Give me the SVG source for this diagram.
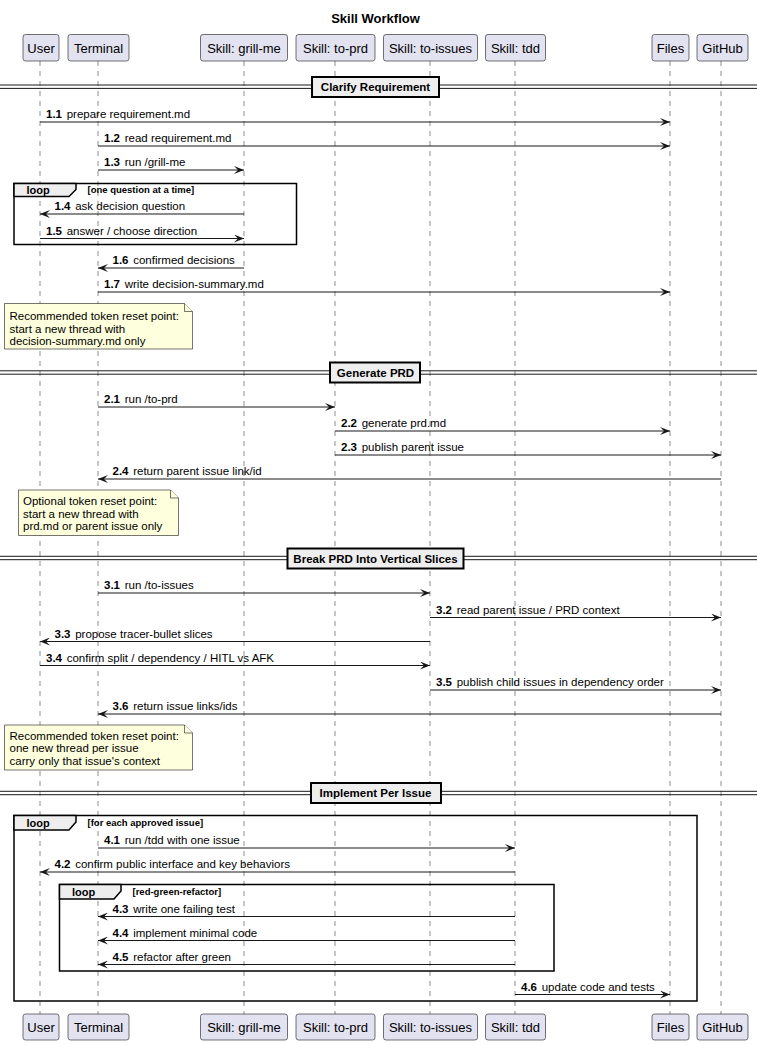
<svg xmlns="http://www.w3.org/2000/svg" width="757" height="1044" viewBox="0 0 757 1044">
<style>
text{font-family:"Liberation Sans",Arial,sans-serif;fill:#000}
.title{font-size:13px;font-weight:bold}
.pbox{fill:#E2E2F0;stroke:#181818;stroke-width:0.6}
.pl{font-size:13px;text-anchor:middle}
.life{stroke:#181818;stroke-width:0.5;stroke-dasharray:5,5}
.msg{stroke:#181818;stroke-width:1;fill:none}
.ml{font-size:11.5px}
.num{font-weight:bold}
.note{fill:#FEFFDD;stroke:#181818;stroke-width:0.6}
.nt{font-size:11.5px}
.dl{stroke:#181818;stroke-width:1}
.dbox{fill:#EEEEEE;stroke:#000;stroke-width:2}
.dt{font-size:11.5px;font-weight:bold;text-anchor:middle}
.loop{fill:none;stroke:#000;stroke-width:1.5}
.tab{fill:#EEEEEE;stroke:#000;stroke-width:1.5}
.lt{font-size:11px;font-weight:bold}
.gt{font-size:9.5px;font-weight:bold}
</style>
<defs>
<marker id="ah" viewBox="0 0 10 8" markerWidth="10" markerHeight="8" refX="10" refY="4" orient="auto" markerUnits="userSpaceOnUse">
<path d="M0,0 L10,4 L0,8 L4,4 Z" fill="#181818"/>
</marker>
</defs>
<rect width="757" height="1044" fill="#fff"/>
<text class="title" x="375.5" y="23" text-anchor="middle">Skill Workflow</text>

<g id="lifelines">
<line class="life" x1="40" y1="61" x2="40" y2="1014"/>
<line class="life" x1="98" y1="61" x2="98" y2="1014"/>
<line class="life" x1="244" y1="61" x2="244" y2="1014"/>
<line class="life" x1="335" y1="61" x2="335" y2="1014"/>
<line class="life" x1="430" y1="61" x2="430" y2="1014"/>
<line class="life" x1="515" y1="61" x2="515" y2="1014"/>
<line class="life" x1="670" y1="61" x2="670" y2="1014"/>
<line class="life" x1="721" y1="61" x2="721" y2="1014"/>
</g>

<g id="p-user">
<rect class="pbox" x="23" y="34.5" width="36" height="26.5" rx="2.5"/><text class="pl" x="41" y="52.5">User</text>
<rect class="pbox" x="23" y="1014" width="36" height="26" rx="2.5"/><text class="pl" x="41" y="1031.5">User</text>
</g>
<g id="p-terminal">
<rect class="pbox" x="68" y="34.5" width="61" height="26.5" rx="2.5"/><text class="pl" x="98.5" y="52.5">Terminal</text>
<rect class="pbox" x="68" y="1014" width="61" height="26" rx="2.5"/><text class="pl" x="98.5" y="1031.5">Terminal</text>
</g>
<g id="p-grill">
<rect class="pbox" x="200.5" y="34.5" width="87" height="26.5" rx="2.5"/><text class="pl" x="244" y="52.5">Skill: grill-me</text>
<rect class="pbox" x="200.5" y="1014" width="87" height="26" rx="2.5"/><text class="pl" x="244" y="1031.5">Skill: grill-me</text>
</g>
<g id="p-toprd">
<rect class="pbox" x="296" y="34.5" width="79" height="26.5" rx="2.5"/><text class="pl" x="335.5" y="52.5">Skill: to-prd</text>
<rect class="pbox" x="296" y="1014" width="79" height="26" rx="2.5"/><text class="pl" x="335.5" y="1031.5">Skill: to-prd</text>
</g>
<g id="p-toissues">
<rect class="pbox" x="383.5" y="34.5" width="94" height="26.5" rx="2.5"/><text class="pl" x="430.5" y="52.5">Skill: to-issues</text>
<rect class="pbox" x="383.5" y="1014" width="94" height="26" rx="2.5"/><text class="pl" x="430.5" y="1031.5">Skill: to-issues</text>
</g>
<g id="p-tdd">
<rect class="pbox" x="485.5" y="34.5" width="60" height="26.5" rx="2.5"/><text class="pl" x="515.5" y="52.5">Skill: tdd</text>
<rect class="pbox" x="485.5" y="1014" width="60" height="26" rx="2.5"/><text class="pl" x="515.5" y="1031.5">Skill: tdd</text>
</g>
<g id="p-files">
<rect class="pbox" x="652" y="34.5" width="37" height="26.5" rx="2.5"/><text class="pl" x="670.5" y="52.5">Files</text>
<rect class="pbox" x="652" y="1014" width="37" height="26" rx="2.5"/><text class="pl" x="670.5" y="1031.5">Files</text>
</g>
<g id="p-github">
<rect class="pbox" x="697" y="34.5" width="51" height="26.5" rx="2.5"/><text class="pl" x="722.5" y="52.5">GitHub</text>
<rect class="pbox" x="697" y="1014" width="51" height="26" rx="2.5"/><text class="pl" x="722.5" y="1031.5">GitHub</text>
</g>

<g id="divider-1">
<line class="dl" x1="0" y1="85" x2="757" y2="85"/><line class="dl" x1="0" y1="88.4" x2="757" y2="88.4"/>
<rect class="dbox" x="312" y="77" width="127" height="20"/><text class="dt" x="375.5" y="91">Clarify Requirement</text>
</g>
<g id="divider-2">
<line class="dl" x1="0" y1="370.8" x2="757" y2="370.8"/><line class="dl" x1="0" y1="374.2" x2="757" y2="374.2"/>
<rect class="dbox" x="330" y="362.5" width="90" height="20"/><text class="dt" x="375.5" y="376.5">Generate PRD</text>
</g>
<g id="divider-3">
<line class="dl" x1="0" y1="556.3" x2="757" y2="556.3"/><line class="dl" x1="0" y1="559.7" x2="757" y2="559.7"/>
<rect class="dbox" x="287.5" y="548.5" width="176" height="20"/><text class="dt" x="375.5" y="562.5">Break PRD Into Vertical Slices</text>
</g>
<g id="divider-4">
<line class="dl" x1="0" y1="791.3" x2="757" y2="791.3"/><line class="dl" x1="0" y1="794.7" x2="757" y2="794.7"/>
<rect class="dbox" x="311" y="783" width="130" height="20"/><text class="dt" x="375.5" y="797">Implement Per Issue</text>
</g>

<g id="loop-1">
<rect class="loop" x="14" y="183.5" width="282.5" height="61"/>
<path class="tab" d="M14,183.5 L76,183.5 L76,189.5 L69,196.5 L14,196.5 Z"/>
<text class="lt" x="26.5" y="194">loop</text>
<text class="gt" x="87.5" y="193">[one question at a time]</text>
</g>
<g id="loop-2">
<rect class="loop" x="14" y="815.5" width="683" height="185.5"/>
<path class="tab" d="M14,815.5 L76,815.5 L76,822 L69,830 L14,830 Z"/>
<text class="lt" x="26.5" y="827">loop</text>
<text class="gt" x="87.5" y="826">[for each approved issue]</text>
</g>
<g id="loop-3">
<rect class="loop" x="59.5" y="884.5" width="494.5" height="86.5"/>
<path class="tab" d="M59.5,884.5 L121,884.5 L121,891 L114,899 L59.5,899 Z"/>
<text class="lt" x="72" y="896">loop</text>
<text class="gt" x="132.5" y="895">[red-green-refactor]</text>
</g>

<g id="note-1">
<path class="note" d="M4.5,303.5 L184.5,303.5 L192.5,311.5 L192.5,349 L4.5,349 Z"/>
<path class="note" d="M184.5,303.5 L184.5,311.5 L192.5,311.5" fill="none"/>
<text class="nt" x="9.5" y="320">Recommended token reset point:</text>
<text class="nt" x="9.5" y="332.5">start a new thread with</text>
<text class="nt" x="9.5" y="345">decision-summary.md only</text>
</g>
<g id="note-2">
<path class="note" d="M18.5,490 L170.5,490 L178.5,498 L178.5,535.5 L18.5,535.5 Z"/>
<path class="note" d="M170.5,490 L170.5,498 L178.5,498" fill="none"/>
<text class="nt" x="23" y="505">Optional token reset point:</text>
<text class="nt" x="23" y="517.5">start a new thread with</text>
<text class="nt" x="23" y="530">prd.md or parent issue only</text>
</g>
<g id="note-3">
<path class="note" d="M4.5,725 L184.5,725 L192.5,733 L192.5,770 L4.5,770 Z"/>
<path class="note" d="M184.5,725 L184.5,733 L192.5,733" fill="none"/>
<text class="nt" x="9.5" y="739.5">Recommended token reset point:</text>
<text class="nt" x="9.5" y="752">one new thread per issue</text>
<text class="nt" x="9.5" y="764.5">carry only that issue's context</text>
</g>

<g id="connectors">
<line class="msg" x1="40" y1="122" x2="670" y2="122" marker-end="url(#ah)"/>
<line class="msg" x1="98" y1="146" x2="670" y2="146" marker-end="url(#ah)"/>
<line class="msg" x1="98" y1="170" x2="244" y2="170" marker-end="url(#ah)"/>
<line class="msg" x1="244" y1="214" x2="40" y2="214" marker-end="url(#ah)"/>
<line class="msg" x1="40" y1="238.5" x2="244" y2="238.5" marker-end="url(#ah)"/>
<line class="msg" x1="244" y1="268" x2="98" y2="268" marker-end="url(#ah)"/>
<line class="msg" x1="98" y1="292" x2="670" y2="292" marker-end="url(#ah)"/>
<line class="msg" x1="98" y1="407" x2="335" y2="407" marker-end="url(#ah)"/>
<line class="msg" x1="335" y1="431" x2="670" y2="431" marker-end="url(#ah)"/>
<line class="msg" x1="335" y1="455" x2="721" y2="455" marker-end="url(#ah)"/>
<line class="msg" x1="721" y1="479" x2="98" y2="479" marker-end="url(#ah)"/>
<line class="msg" x1="98" y1="593" x2="430" y2="593" marker-end="url(#ah)"/>
<line class="msg" x1="430" y1="617.5" x2="721" y2="617.5" marker-end="url(#ah)"/>
<line class="msg" x1="430" y1="641.5" x2="40" y2="641.5" marker-end="url(#ah)"/>
<line class="msg" x1="40" y1="665.5" x2="430" y2="665.5" marker-end="url(#ah)"/>
<line class="msg" x1="430" y1="690" x2="721" y2="690" marker-end="url(#ah)"/>
<line class="msg" x1="721" y1="714" x2="98" y2="714" marker-end="url(#ah)"/>
<line class="msg" x1="98" y1="848" x2="515" y2="848" marker-end="url(#ah)"/>
<line class="msg" x1="515" y1="872" x2="40" y2="872" marker-end="url(#ah)"/>
<line class="msg" x1="515" y1="916.5" x2="98" y2="916.5" marker-end="url(#ah)"/>
<line class="msg" x1="515" y1="940.5" x2="98" y2="940.5" marker-end="url(#ah)"/>
<line class="msg" x1="515" y1="964.5" x2="98" y2="964.5" marker-end="url(#ah)"/>
<line class="msg" x1="515" y1="994.5" x2="670" y2="994.5" marker-end="url(#ah)"/>
</g>

<g id="labels">
<text class="ml" x="46" y="118"><tspan class="num">1.1</tspan> <tspan dx="1.5">prepare requirement.md</tspan></text>
<text class="ml" x="104" y="142"><tspan class="num">1.2</tspan> <tspan dx="1.5">read requirement.md</tspan></text>
<text class="ml" x="104" y="166"><tspan class="num">1.3</tspan> <tspan dx="1.5">run /grill-me</tspan></text>
<text class="ml" x="54.5" y="210"><tspan class="num">1.4</tspan> <tspan dx="1.5">ask decision question</tspan></text>
<text class="ml" x="46" y="234.5"><tspan class="num">1.5</tspan> <tspan dx="1.5">answer / choose direction</tspan></text>
<text class="ml" x="112.5" y="264"><tspan class="num">1.6</tspan> <tspan dx="1.5">confirmed decisions</tspan></text>
<text class="ml" x="104" y="288"><tspan class="num">1.7</tspan> <tspan dx="1.5">write decision-summary.md</tspan></text>
<text class="ml" x="104" y="403"><tspan class="num">2.1</tspan> <tspan dx="1.5">run /to-prd</tspan></text>
<text class="ml" x="341" y="427"><tspan class="num">2.2</tspan> <tspan dx="1.5">generate prd.md</tspan></text>
<text class="ml" x="341" y="451"><tspan class="num">2.3</tspan> <tspan dx="1.5">publish parent issue</tspan></text>
<text class="ml" x="112.5" y="475"><tspan class="num">2.4</tspan> <tspan dx="1.5">return parent issue link/id</tspan></text>
<text class="ml" x="104" y="589"><tspan class="num">3.1</tspan> <tspan dx="1.5">run /to-issues</tspan></text>
<text class="ml" x="436" y="613.5"><tspan class="num">3.2</tspan> <tspan dx="1.5">read parent issue / PRD context</tspan></text>
<text class="ml" x="54.5" y="637.5"><tspan class="num">3.3</tspan> <tspan dx="1.5">propose tracer-bullet slices</tspan></text>
<text class="ml" x="46" y="661.5"><tspan class="num">3.4</tspan> <tspan dx="1.5">confirm split / dependency / HITL vs AFK</tspan></text>
<text class="ml" x="436" y="686"><tspan class="num">3.5</tspan> <tspan dx="1.5">publish child issues in dependency order</tspan></text>
<text class="ml" x="112.5" y="710"><tspan class="num">3.6</tspan> <tspan dx="1.5">return issue links/ids</tspan></text>
<text class="ml" x="104" y="844"><tspan class="num">4.1</tspan> <tspan dx="1.5">run /tdd with one issue</tspan></text>
<text class="ml" x="54.5" y="868"><tspan class="num">4.2</tspan> <tspan dx="1.5">confirm public interface and key behaviors</tspan></text>
<text class="ml" x="112.5" y="912.5"><tspan class="num">4.3</tspan> <tspan dx="1.5">write one failing test</tspan></text>
<text class="ml" x="112.5" y="936.5"><tspan class="num">4.4</tspan> <tspan dx="1.5">implement minimal code</tspan></text>
<text class="ml" x="112.5" y="960.5"><tspan class="num">4.5</tspan> <tspan dx="1.5">refactor after green</tspan></text>
<text class="ml" x="521" y="990.5"><tspan class="num">4.6</tspan> <tspan dx="1.5">update code and tests</tspan></text>
</g>
</svg>
